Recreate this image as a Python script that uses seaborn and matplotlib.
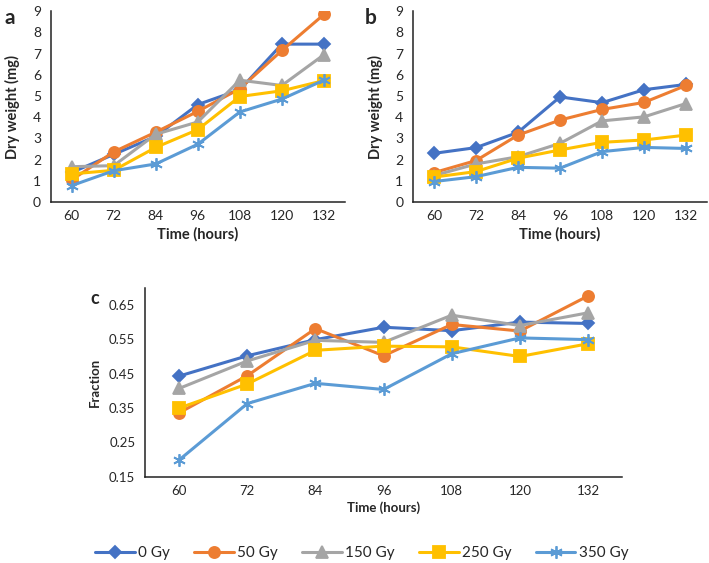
import numpy as np
import pandas as pd
import matplotlib
matplotlib.use('Agg')
import matplotlib.pyplot as plt
import seaborn as sns

HOURS = ['60', '72', '84', '96', '108', '120', '132']
DOSES = ['0 Gy', '50 Gy', '150 Gy', '250 Gy', '350 Gy']

# panel a: dry weight (mg)
A_0 = [1.40, 2.25, 3.10, 4.60, 5.30, 7.45, 7.45]
A_50 = [1.05, 2.37, 3.30, 4.28, 5.35, 7.15, 8.85]
A_150 = [1.67, 1.72, 3.20, 3.78, 5.75, 5.50, 6.95]
A_250 = [1.33, 1.50, 2.58, 3.42, 4.98, 5.25, 5.73]
A_350 = [0.78, 1.48, 1.80, 2.73, 4.25, 4.86, 5.75]

# panel b: dry weight (mg)
B_0 = [2.30, 2.57, 3.29, 4.96, 4.69, 5.30, 5.55]
B_50 = [1.39, 1.96, 3.16, 3.87, 4.37, 4.70, 5.50]
B_150 = [1.25, 1.80, 2.14, 2.77, 3.83, 4.02, 4.65]
B_250 = [1.18, 1.44, 2.07, 2.46, 2.82, 2.93, 3.16]
B_350 = [0.97, 1.20, 1.64, 1.60, 2.38, 2.58, 2.53]

# panel c: fraction
C_0 = [0.443, 0.502, 0.549, 0.585, 0.575, 0.600, 0.596]
C_50 = [0.336, 0.444, 0.581, 0.502, 0.593, 0.574, 0.676]
C_150 = [0.407, 0.487, 0.547, 0.541, 0.620, 0.590, 0.627]
C_250 = [0.350, 0.420, 0.518, 0.530, 0.528, 0.500, 0.537]
C_350 = [0.199, 0.363, 0.422, 0.404, 0.508, 0.554, 0.549]

COLOURS = ['#4472C4', '#ED7D31', '#A5A5A5', '#FFC000', '#5B9BD5']
MARKERS = ['D', 'o', '^', 's', (6, 2, 0)]
MSIZE = [6.5, 8, 8, 8, 9]

sns.set_style('white')
plt.rcParams['font.family'] = ['Lato', 'DejaVu Sans']


def long_frame(series):
    rows = []
    for dose, vals in zip(DOSES, series):
        for i, v in enumerate(vals):
            rows.append({'pos': i, 'hour': HOURS[i], 'dose': dose, 'value': v})
    return pd.DataFrame(rows)


def draw_panel(ax, series, ylim, yticks, yfmt, ylabel, tick_fs, label_fs, ypad):
    df = long_frame(series)
    for k, dose in enumerate(DOSES):
        sub = df[df['dose'] == dose]
        sns.lineplot(data=sub, x='pos', y='value', color=COLOURS[k],
                     marker=MARKERS[k], markersize=MSIZE[k], linewidth=2.2,
                     markeredgecolor=COLOURS[k], markeredgewidth=1.3,
                     label=dose, legend=False, ax=ax)
    ax.set_xlim(-0.5, len(HOURS) - 0.5)
    ax.set_ylim(*ylim)
    # Excel-style: tick marks between categories, labels centered
    ax.set_xticks(np.arange(-0.5, len(HOURS)), labels=[''] * (len(HOURS) + 1))
    ax.set_xticks(np.arange(len(HOURS)), labels=HOURS, minor=True)
    ax.tick_params(axis='x', which='major', length=4, width=1, direction='out', color='#222222')
    ax.tick_params(axis='x', which='minor', length=0, labelsize=tick_fs, pad=6)
    ax.set_yticks(yticks, labels=[yfmt.format(t) for t in yticks])
    ax.tick_params(axis='y', length=4, width=1, direction='out', color='#222222',
                   labelsize=tick_fs, pad=3)
    ax.spines[['top', 'right']].set_visible(False)
    for s in ['left', 'bottom']:
        ax.spines[s].set_color('#222222')
        ax.spines[s].set_linewidth(1.1)
    ax.set_xlabel('Time (hours)', fontweight='bold', fontsize=label_fs, labelpad=3)
    ax.set_ylabel(ylabel, fontweight='bold', fontsize=label_fs, labelpad=ypad)


fig = plt.figure(figsize=(7.09, 5.63), dpi=100)
ax_a = fig.add_axes([0.0715, 0.641, 0.415, 0.339])
ax_b = fig.add_axes([0.5825, 0.641, 0.4147, 0.339])
ax_c = fig.add_axes([0.2045, 0.153, 0.673, 0.336])

draw_panel(ax_a, [A_0, A_50, A_150, A_250, A_350], (0, 9), list(range(10)), '{:d}',
           'Dry weight (mg)', 10, 10.5, 9)
draw_panel(ax_b, [B_0, B_50, B_150, B_250, B_350], (0, 9), list(range(10)), '{:d}',
           'Dry weight (mg)', 10, 10.5, 9)
draw_panel(ax_c, [C_0, C_50, C_150, C_250, C_350], (0.15, 0.70),
           [0.15, 0.25, 0.35, 0.45, 0.55, 0.65], '{:.2f}', 'Fraction', 9.5, 9.5, 6)

fig.text(0.006, 0.985, 'a', fontsize=15, fontweight='bold', va='top')
fig.text(0.515, 0.985, 'b', fontsize=15, fontweight='bold', va='top')
fig.text(0.128, 0.485, 'c', fontsize=13, fontweight='bold', va='top')

handles, labels = ax_a.get_legend_handles_labels()
fig.legend(handles, labels, loc='center', bbox_to_anchor=(0.51, 0.018), ncol=5,
           frameon=False, fontsize=11, handlelength=2.6, columnspacing=1.6,
           handletextpad=0.2)

fig.savefig('out.png', dpi=100)
